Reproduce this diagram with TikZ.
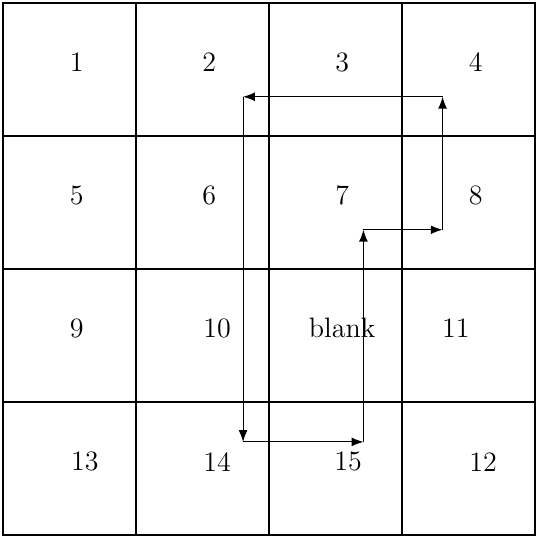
\documentclass[tikz,border=0pt]{standalone}
\usepackage{amsmath}
\usepackage{tikz}
\usetikzlibrary{
    arrows.meta,
    positioning
}

\begin{document}
\begin{tikzpicture}[
        >=Latex,
        tile/.style={
            font=\large,
            inner sep=0pt
        },
        move/.style={
            ->,
            line width=0.45pt
        }
    ]
        \useasboundingbox (-0.045,0.045) rectangle (8.03,-8.03);
        % board
        \draw[semithick] (0,0) rectangle (8,-8);
        \draw[thick] (2,0) -- (2,-8);
        \draw[thick] (4,0) -- (4,-8);
        \draw[thick] (6,0) -- (6,-8);
        \draw[thick] (0,-2) -- (8,-2);
        \draw[thick] (0,-4) -- (8,-4);
        \draw[thick] (0,-6) -- (8,-6);
        % tiles
        \node[tile] (t1) at (1.11,-0.89) {1};
        \node[tile] (t2) at (3.10,-0.89) {2};
        \node[tile] (t3) at (5.10,-0.89) {3};
        \node[tile] (t4) at (7.11,-0.89) {4};
        \node[tile] (t5) at (1.11,-2.89) {5};
        \node[tile] (t6) at (3.10,-2.89) {6};
        \node[tile] (t7) at (5.10,-2.89) {7};
        \node[tile] (t8) at (7.11,-2.89) {8};
        \node[tile] (t9) at (1.11,-4.89) {9};
        \node[tile] (t10) at (3.22,-4.89) {10};
        \node[tile] (tb) at (5.10,-4.89) {blank};
        \node[tile] (t11) at (6.81,-4.89) {11};
        \node[tile] (t13) at (1.23,-6.90) {13};
        \node[tile] (t14) at (3.22,-6.90) {14};
        \node[tile] (t15) at (5.19,-6.90) {15};
        \node[tile] (t12) at (7.22,-6.90) {12};
        % path of the blank
        \coordinate (c1) at (5.42,-6.60);
        \coordinate (c2) at (5.42,-3.41);
        \coordinate (c3) at (6.61,-3.41);
        \coordinate (c4) at (6.61,-1.41);
        \coordinate (c5) at (3.61,-1.41);
        \coordinate (c6) at (3.61,-6.60);
        \draw[move] (c1) -- (c2);
        \draw[move] (c2) -- (c3);
        \draw[move] (c3) -- (c4);
        \draw[move] (c4) -- (c5);
        \draw[move] (c5) -- (c6);
        \draw[move] (c6) -- (c1);
    \end{tikzpicture}
\end{document}
